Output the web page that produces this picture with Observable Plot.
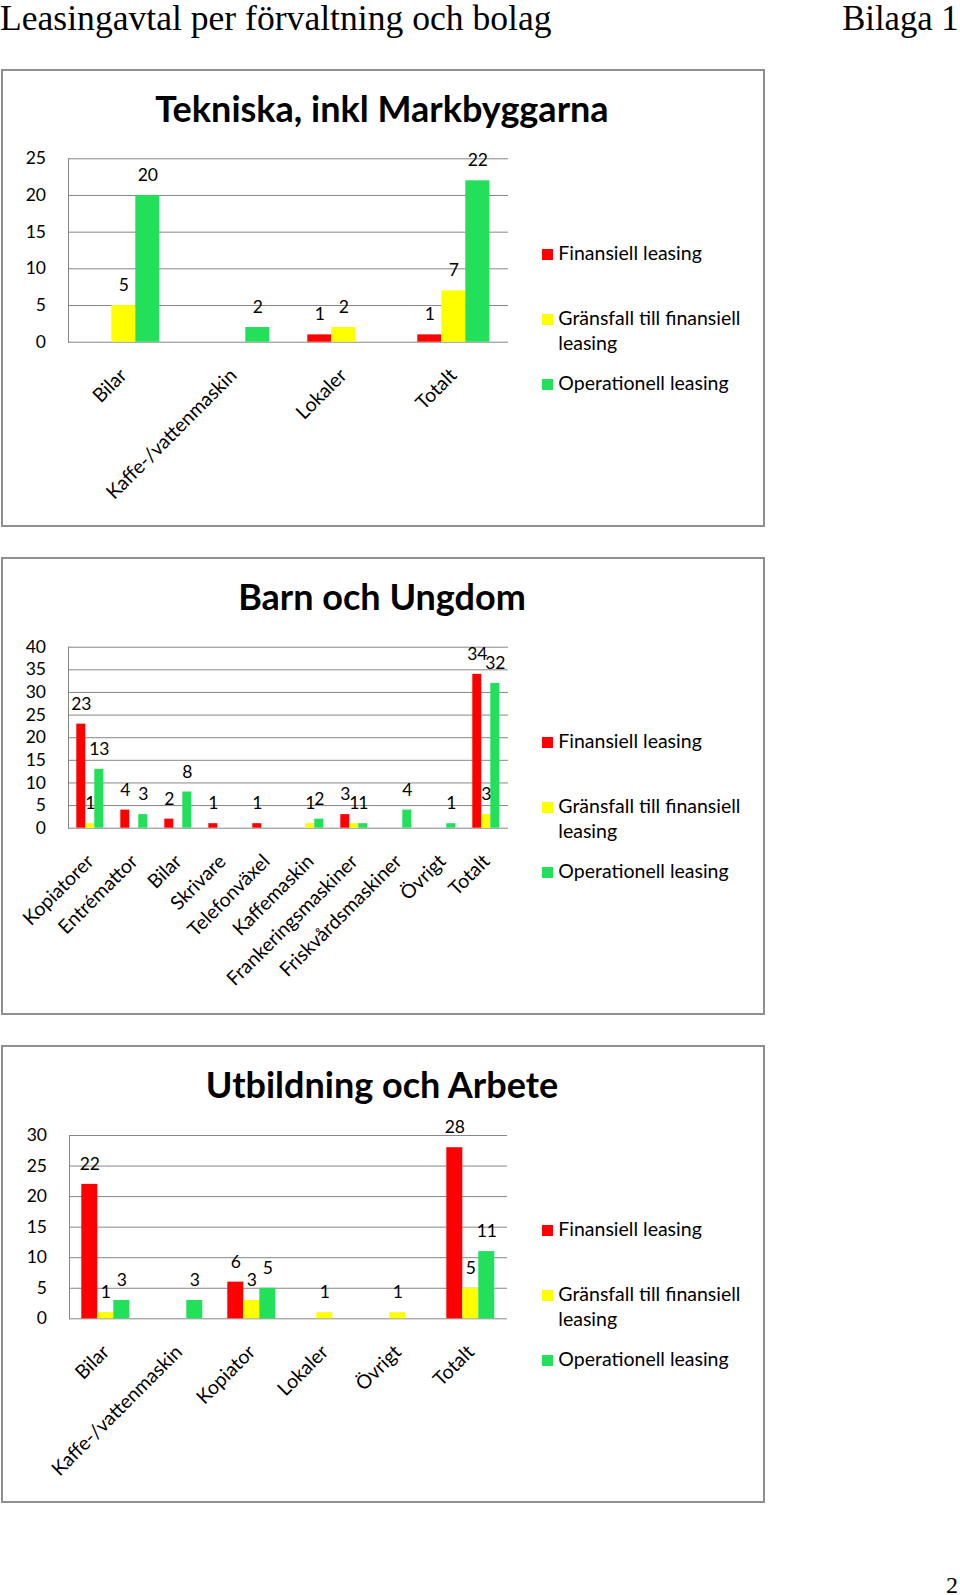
<!DOCTYPE html>
<html>
<head>
<meta charset="utf-8">
<script src="https://cdn.jsdelivr.net/npm/d3@7"></script>
<script src="https://cdn.jsdelivr.net/npm/@observablehq/plot@0.6"></script>
<style>
  html, body { margin: 0; padding: 0; background: #fff; }
  body { position: relative; width: 960px; height: 1595px; overflow: hidden; }
  .hdr { position: absolute; font-family: "Liberation Serif", serif; font-size: 35px; line-height: 39px; color: #000; white-space: nowrap; }
  .box { position: absolute; left: 1px; width: 764px; height: 458px; box-sizing: border-box; border: 2px solid #8f8f8f; }
  .box svg { position: absolute; left: 0; top: 0; }
  .ctitle { position: absolute; left: 0; width: 758px; text-align: center; font-family: Lato, sans-serif; font-weight: bold; font-size: 36px; line-height: 36px; color: #000; white-space: nowrap; }
  .leg { position: absolute; font-family: Lato, sans-serif; font-size: 19.5px; line-height: 25.5px; color: #000; white-space: nowrap; }
  .sw { position: absolute; width: 11px; height: 11px; }
</style>
</head>
<body>
<div class="hdr" id="hleft" style="left:0; top:-1px; transform: scaleX(1.017); transform-origin: left top;">Leasingavtal per förvaltning och bolag</div>
<div class="hdr" id="hright" style="right:1px; top:-1px; transform: scaleX(0.99); transform-origin: right top;">Bilaga 1</div>
<div class="hdr" id="pnum" style="right:2px; top:1573px; font-size:24px; line-height:24px;">2</div>

<script>
// ---- Series (legend) ----
const seriesNames = ["Finansiell leasing", "Gränsfall till finansiell leasing", "Operationell leasing"];
const seriesColors = ["#ff0000", "#ffff00", "#22e05a"];

// ---- Chart 1: Tekniska, inkl Markbyggarna ----
const tekTitle = "Tekniska, inkl Markbyggarna";
const tekCategories = ["Bilar", "Kaffe-/vattenmaskin", "Lokaler", "Totalt"];
const tekFinansiell = [0, 0, 1, 1];
const tekGransfall = [5, 0, 2, 7];
const tekOperationell = [20, 2, 0, 22];
const tekTicks = [0, 5, 10, 15, 20, 25];

// ---- Chart 2: Barn och Ungdom ----
const buTitle = "Barn och Ungdom";
const buCategories = ["Kopiatorer", "Entrémattor", "Bilar", "Skrivare", "Telefonväxel", "Kaffemaskin", "Frankeringsmaskiner", "Friskvårdsmaskiner", "Övrigt", "Totalt"];
const buFinansiell = [23, 4, 2, 1, 1, 0, 3, 0, 0, 34];
const buGransfall = [1, 0, 0, 0, 0, 1, 1, 0, 0, 3];
const buOperationell = [13, 3, 8, 0, 0, 2, 1, 4, 1, 32];
const buTicks = [0, 5, 10, 15, 20, 25, 30, 35, 40];

// ---- Chart 3: Utbildning och Arbete ----
const uaTitle = "Utbildning och Arbete";
const uaCategories = ["Bilar", "Kaffe-/vattenmaskin", "Kopiator", "Lokaler", "Övrigt", "Totalt"];
const uaFinansiell = [22, 0, 6, 0, 0, 28];
const uaGransfall = [1, 0, 3, 1, 1, 5];
const uaOperationell = [3, 3, 5, 0, 0, 11];
const uaTicks = [0, 5, 10, 15, 20, 25, 30];

function buildChart(top, title, categories, seriesValues, ticks, plotTop, plotBottom) {
  const box = document.createElement("div");
  box.className = "box";
  box.style.top = top + "px";
  document.body.appendChild(box);

  const data = [];
  categories.forEach((c, i) => {
    seriesNames.forEach((s, j) => {
      data.push({category: c, series: s, value: seriesValues[j][i]});
    });
  });
  const shown = data.filter(d => d.value > 0);
  const grid = "#868686";
  const H = 454;

  const svg = Plot.plot({
    width: 758,
    height: H,
    marginLeft: 63.7,
    marginRight: 252.7,
    marginTop: plotTop,
    marginBottom: H - plotBottom,
    style: {fontFamily: "Lato, sans-serif", fontSize: "17px", color: "#000", background: "transparent", overflow: "visible"},
    fx: {domain: categories, paddingInner: 0, paddingOuter: 0, axis: null},
    x: {domain: seriesNames, paddingInner: 0, paddingOuter: 0.75, axis: null},
    y: {domain: [0, d3.max(ticks)], axis: null},
    color: {domain: seriesNames, range: seriesColors},
    marks: [
      Plot.ruleY(ticks, {stroke: grid, strokeWidth: 1}),
      Plot.frame({anchor: "left", stroke: grid, strokeWidth: 1, facetAnchor: "left"}),
      Plot.axisY(ticks, {anchor: "left", tickSize: 0, tickPadding: 22.5, fontSize: 17.5, label: null}),
      Plot.barY(shown, {fx: "category", x: "series", y: "value", fill: "series"}),
      Plot.text(shown, {fx: "category", x: "series", y: "value", text: d => String(d.value), dy: -20, fill: "#000", fontSize: 17.5}),
      Plot.axisFx({anchor: "bottom", tickRotate: -45, tickSize: 0, tickPadding: 30, label: null, textAnchor: "end", fontSize: 19.5})
    ]
  });
  box.appendChild(svg);

  const t = document.createElement("div");
  t.className = "ctitle";
  t.style.top = (51 - 0.887 * 36) + "px";
  t.textContent = title;
  box.appendChild(t);

  // legend
  const legendItems = [
    {lines: ["Finansiell leasing"], baseline: 189.7},
    {lines: ["Gränsfall till finansiell", "leasing"], baseline: 254},
    {lines: ["Operationell leasing"], baseline: 319}
  ];
  legendItems.forEach((it, k) => {
    const sw = document.createElement("div");
    sw.className = "sw";
    sw.style.left = "538.7px";
    sw.style.top = (it.baseline - 11.5) + "px";
    sw.style.background = seriesColors[k];
    box.appendChild(sw);
    const tx = document.createElement("div");
    tx.className = "leg";
    tx.style.left = "555.3px";
    tx.style.top = (it.baseline - 20.3) + "px";
    tx.innerHTML = it.lines.join("<br>");
    box.appendChild(tx);
  });
}

buildChart(69, tekTitle, tekCategories, [tekFinansiell, tekGransfall, tekOperationell], tekTicks, 87.3, 270.7);
buildChart(557, buTitle, buCategories, [buFinansiell, buGransfall, buOperationell], buTicks, 87.7, 268.7);
buildChart(1045, uaTitle, uaCategories, [uaFinansiell, uaGransfall, uaOperationell], uaTicks, 88, 271.3);
</script>
</body>
</html>
